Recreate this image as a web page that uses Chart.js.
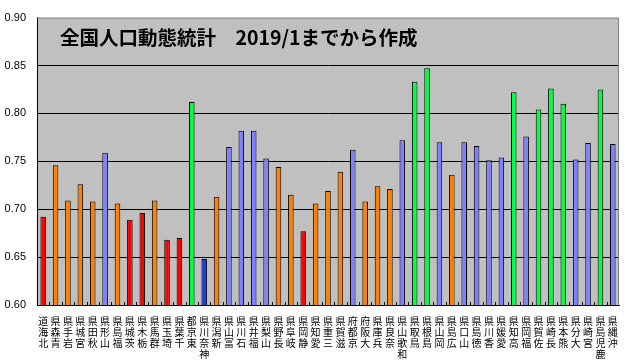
<!DOCTYPE html>
<html>
<head>
<meta charset="utf-8">
<script src="https://cdn.jsdelivr.net/npm/chart.js@4/dist/chart.umd.min.js"></script>
<style>
    html, body { margin: 0; padding: 0; background: #fff; }
    #wrap { width: 625px; height: 362px; }
</style>
</head>
<body>
<div id="wrap"><canvas id="chart"></canvas></div>
<script>
const prefectures = ['北海道', '青森県', '岩手県', '宮城県', '秋田県', '山形県', '福島県', '茨城県', '栃木県', '群馬県',
    '埼玉県', '千葉県', '東京都', '神奈川県', '新潟県', '富山県', '石川県', '福井県', '山梨県', '長野県',
    '岐阜県', '静岡県', '愛知県', '三重県', '滋賀県', '京都府', '大阪府', '兵庫県', '奈良県', '和歌山県',
    '鳥取県', '島根県', '岡山県', '広島県', '山口県', '徳島県', '香川県', '愛媛県', '高知県', '福岡県',
    '佐賀県', '長崎県', '熊本県', '大分県', '宮崎県', '鹿児島県', '沖縄県']

const ratio = [0.692, 0.746, 0.709, 0.726, 0.708, 0.759, 0.706, 0.689, 0.696, 0.709,
    0.668, 0.670, 0.812, 0.648, 0.713, 0.765, 0.782, 0.782, 0.753, 0.744,
    0.715, 0.677, 0.706, 0.719, 0.739, 0.762, 0.708, 0.724, 0.721, 0.772,
    0.833, 0.847, 0.770, 0.736, 0.770, 0.766, 0.751, 0.754, 0.822, 0.776,
    0.804, 0.826, 0.810, 0.752, 0.769, 0.825, 0.768]

// r = red, o = orange, b = lavender, g = green, k = dark blue
const group = ['r', 'o', 'o', 'o', 'o', 'b', 'o', 'r', 'r', 'o',
    'r', 'r', 'g', 'k', 'o', 'b', 'b', 'b', 'b', 'o',
    'o', 'r', 'o', 'o', 'o', 'b', 'o', 'o', 'o', 'b',
    'g', 'g', 'b', 'o', 'b', 'b', 'b', 'b', 'g', 'b',
    'g', 'g', 'g', 'b', 'b', 'g', 'b']

const yTicks = [0.60, 0.65, 0.70, 0.75, 0.80, 0.85, 0.90]

const title = '全国人口動態統計　2019/1までから作成'

const groupColors = { r: '#ff0000', o: '#ff8000', b: '#8080ff', g: '#00ff40', k: '#1a3ae8' }

// plot background, gray frame on top/right, small inner ticks, title
const framePlugin = {
    id: 'frame',
    beforeDraw(chart) {
        const { ctx, chartArea: a } = chart
        ctx.save()
        ctx.fillStyle = '#c0c0c0'
        ctx.fillRect(a.left, a.top, a.right - a.left, a.bottom - a.top)
        ctx.restore()
    },
    afterDatasetsDraw(chart) {
        const { ctx, chartArea: a } = chart
        const x = chart.scales.x
        ctx.save()
        ctx.strokeStyle = '#808080'
        ctx.lineWidth = 1
        ctx.beginPath()
        ctx.moveTo(a.left, a.top + 0.5)
        ctx.lineTo(a.right - 0.5, a.top + 0.5)
        ctx.lineTo(a.right - 0.5, a.bottom)
        ctx.stroke()

        ctx.strokeStyle = '#000'
        ctx.beginPath()
        for (let i = 1; i < prefectures.length; i++) {
            const px = Math.round(x.getPixelForValue(i - 0.5)) + 0.5
            ctx.moveTo(px, a.bottom)
            ctx.lineTo(px, a.bottom - 3)
        }
        ctx.stroke()

        ctx.fillStyle = '#000'
        ctx.font = 'bold 19.5px "Noto Sans CJK JP", sans-serif'
        ctx.textBaseline = 'middle'
        ctx.fillText(title, 60, 38)
        ctx.restore()
    }
}

new Chart(document.getElementById('chart'), {
    type: 'bar',
    data: {
        labels: prefectures.map(p => [...p].reverse()),
        datasets: [{
            data: ratio,
            backgroundColor: group.map(g => groupColors[g]),
            borderColor: '#000',
            borderWidth: 1,
            borderSkipped: 'bottom',
            barPercentage: 0.45,
            categoryPercentage: 1
        }]
    },
    options: {
        responsive: true,
        maintainAspectRatio: false,
        animation: false,
        layout: { padding: { top: 13, right: 6, left: 0, bottom: 0 } },
        plugins: {
            legend: { display: false },
            tooltip: { enabled: false }
        },
        scales: {
            x: {
                grid: { display: false },
                border: { color: '#000', width: 1 },
                ticks: {
                    color: '#000',
                    maxRotation: 0,
                    autoSkip: false,
                    padding: 3,
                    font: { family: '"Noto Sans CJK JP", sans-serif', size: 10, lineHeight: 1.1 }
                },
                afterFit: s => { s.height = 57 }
            },
            y: {
                min: 0.60,
                max: 0.90,
                afterBuildTicks: s => { s.ticks = yTicks.map(v => ({ value: v })) },
                grid: {
                    color: c => (c.tick && c.tick.value >= 0.899) ? 'rgba(0,0,0,0)' : '#000',
                    drawTicks: false
                },
                border: { color: '#000', width: 1 },
                ticks: {
                    color: '#000',
                    padding: 11,
                    font: { family: '"Liberation Sans", Arial, sans-serif', size: 11 },
                    callback: v => v.toFixed(2)
                },
                afterFit: s => { s.width = 37 }
            }
        }
    },
    plugins: [framePlugin]
})
</script>
</body>
</html>
